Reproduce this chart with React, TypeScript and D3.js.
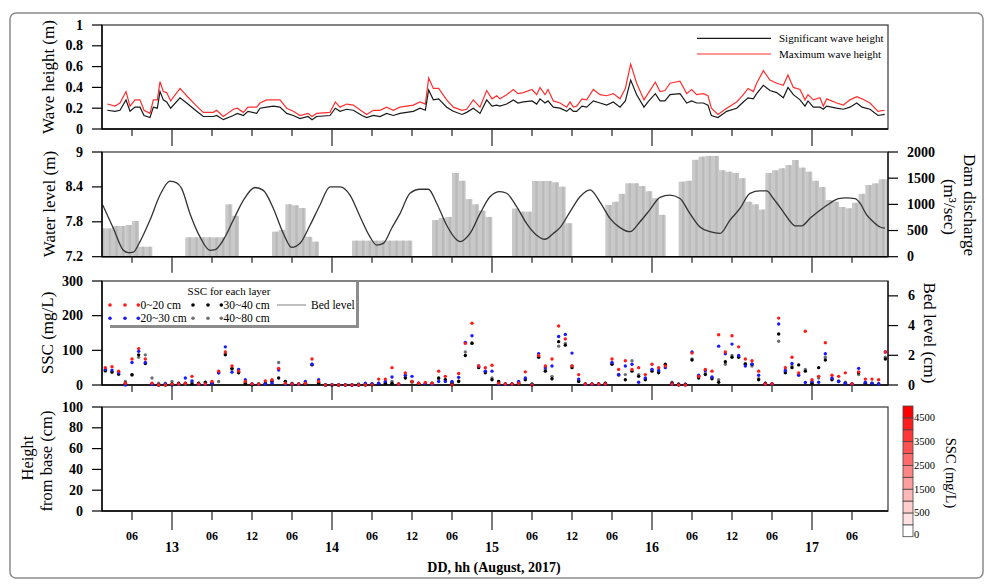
import React from "react";
import * as d3 from "d3";

// ---------- DATA ----------
// time axis: hours relative to 13 Aug 2017 00:00
const dayTicks = [0, 24, 48, 72, 96];
const dayLabels = ["13", "14", "15", "16", "17"];
const hourTicks = [-6, 6, 12, 18, 30, 36, 42, 54, 60, 66, 78, 84, 90, 102];
const hourLabels = ["06", "06", "12", "06", "06", "12", "06", "06", "12", "06", "06", "12", "06", "06"];

// wave heights
const waveHours = [
  -9.7, -8.55, -7.8, -6.9, -6.3, -5.55, -4.8, -4.2, -3.3, -2.8,
  -2.2, -1.8, -1.3, -0.8, -0.2, 1.2, 2.2, 3.7, 4.7, 6.2,
  6.7, 7.7, 9.2, 9.8, 10.7, 11.4, 12.7, 13.2, 14.2, 15.2,
  16.2, 17.2, 18.2, 19.2, 20.4, 21, 21.7, 23.7, 24.5, 25.2,
  26.2, 27.2, 28.5, 29.2, 30.2, 31.2, 32.2, 33.2, 34.2, 36.2,
  37.2, 38, 38.5, 39.2, 40, 41.2, 42.2, 43.5, 44.2, 45.2,
  46.2, 47.2, 48, 48.7,
  49.2, 50.2, 51.2, 51.9, 52.7, 54, 54.7, 55.2, 55.95, 56.4,
  57.2, 58.2, 59.2, 59.7, 60.2, 60.7, 61.5, 62.2, 63.2, 64.2,
  65.2, 66.2, 67.2, 68, 68.8, 69.7, 70.8, 71.4, 72.5, 73.2,
  73.95, 74.7, 76.2, 77.2, 77.95, 78.7, 79.7, 80.4, 80.9, 81.9,
  83.2, 84.7, 85.7, 86.4, 87.2, 87.7, 88.7, 89.7, 90.7, 91.7,
  92.4, 93.2, 94.2, 94.95, 95.4, 96.2, 97.2, 97.7, 98.2, 99.7,
  100.7, 101.7, 102.7, 103.5, 104.7, 105.9, 106.9,
];
const sigWave = [
  0.18, 0.17, 0.18, 0.28, 0.17, 0.21, 0.21, 0.13, 0.11, 0.21,
  0.2, 0.36, 0.28, 0.26, 0.2, 0.3, 0.25, 0.17, 0.12, 0.12,
  0.13, 0.09, 0.13, 0.15, 0.13, 0.17, 0.15, 0.2, 0.21, 0.22,
  0.21, 0.15, 0.13, 0.1, 0.12, 0.09, 0.12, 0.13, 0.2, 0.17,
  0.19, 0.18, 0.13, 0.11, 0.13, 0.12, 0.15, 0.13, 0.15, 0.17,
  0.2, 0.18, 0.375, 0.28, 0.29, 0.21, 0.17, 0.14, 0.16, 0.2,
  0.15, 0.28, 0.22, 0.23,
  0.22, 0.24, 0.28, 0.25, 0.26, 0.27, 0.24, 0.29, 0.25, 0.27,
  0.21, 0.2, 0.17, 0.2, 0.17, 0.17, 0.22, 0.21, 0.27, 0.25,
  0.23, 0.26, 0.21, 0.27, 0.47, 0.33, 0.21, 0.26, 0.34, 0.27,
  0.27, 0.33, 0.34, 0.25, 0.27, 0.25, 0.25, 0.23, 0.13, 0.11,
  0.17, 0.2, 0.26, 0.3, 0.29, 0.34, 0.42, 0.37, 0.35, 0.3,
  0.4, 0.33, 0.28, 0.22, 0.27, 0.21, 0.21, 0.19, 0.22, 0.2,
  0.19, 0.21, 0.25, 0.21, 0.19, 0.13, 0.14,
];
const maxWave = [
  0.24, 0.22, 0.25, 0.36, 0.22, 0.28, 0.28, 0.18, 0.15, 0.28,
  0.28, 0.455, 0.36, 0.35, 0.27, 0.39, 0.32, 0.22, 0.16, 0.16,
  0.18, 0.12, 0.19, 0.2, 0.16, 0.21, 0.21, 0.25, 0.28, 0.28,
  0.28, 0.2, 0.17, 0.13, 0.15, 0.12, 0.15, 0.16, 0.26, 0.21,
  0.24, 0.23, 0.17, 0.14, 0.18, 0.18, 0.21, 0.18, 0.21, 0.23,
  0.26, 0.24, 0.49, 0.39, 0.39, 0.28, 0.21, 0.18, 0.19, 0.28,
  0.21, 0.37, 0.29, 0.32,
  0.29, 0.33, 0.38, 0.34, 0.35, 0.38, 0.33, 0.4, 0.33, 0.38,
  0.27, 0.25, 0.21, 0.26, 0.21, 0.22, 0.29, 0.28, 0.38, 0.33,
  0.32, 0.34, 0.29, 0.39, 0.625, 0.44, 0.28, 0.34, 0.45, 0.36,
  0.37, 0.44, 0.46, 0.34, 0.38, 0.33, 0.34, 0.32, 0.2, 0.14,
  0.2, 0.26, 0.33, 0.39, 0.36, 0.44, 0.56, 0.47, 0.44, 0.42,
  0.52, 0.4, 0.38, 0.28, 0.33, 0.28, 0.3, 0.22, 0.29, 0.25,
  0.23, 0.28, 0.31, 0.29, 0.25, 0.17, 0.18,
];

// water level
const waterHours = [
  -10.4, -8.8, -7.3, -6.55, -5.8, -4.8, -3.3, -1.8, -0.3, 0.7,
  1.45, 2.7, 4.2, 5.7, 6.45, 7.7, 9.2, 10.7, 12.45, 13.7,
  15.2, 16.7, 17.95, 19.2, 20.7, 22.2, 23.7, 25.2, 26.7, 28.2,
  29.7, 30.7, 31.7, 32.95, 34.2, 35.7, 37.2, 38.45, 39.7, 41.2,
  42.7, 43.2, 44.7, 46.2, 47.7, 49.2, 50.2, 51.7, 53.2, 54.7,
  55.95, 57.2, 58.2, 59.7, 61.2, 62.7, 64.2, 65.7, 67.2, 68.7,
  70.2, 71.7, 73.2, 74.7, 76.2, 77.7, 79.2, 80.7, 82.2, 83.7,
  85.2, 86.7, 88.2, 89.2, 90.2, 91.7, 92.7, 93.45, 94.45, 95.7,
  97.2, 98.7, 99.95, 101.2, 102.45, 103.2, 104.2, 105.2, 106.2, 106.95,
];
const waterLevel = [
  8.09, 7.69, 7.31, 7.27, 7.28, 7.46, 7.83, 8.26, 8.5, 8.47,
  8.37, 7.94, 7.54, 7.31, 7.32, 7.49, 7.83, 8.17, 8.39, 8.34,
  8.03, 7.6, 7.36, 7.43, 7.74, 8.09, 8.4, 8.4, 8.26, 7.89,
  7.54, 7.4, 7.43, 7.69, 7.94, 8.29, 8.36, 8.36, 8.12, 7.74,
  7.49, 7.46, 7.6, 7.94, 8.23, 8.32, 8.29, 8.06, 7.77, 7.57,
  7.5, 7.6, 7.7, 7.97, 8.23, 8.35, 8.14, 7.86, 7.7, 7.63,
  7.8, 8.01, 8.22, 8.26, 8.2, 7.94, 7.71, 7.63, 7.6, 7.83,
  8.03, 8.29, 8.33, 8.33, 8.2, 7.97, 7.81, 7.73, 7.73, 7.86,
  8.0, 8.12, 8.2, 8.21, 8.2, 8.12, 7.92, 7.8, 7.71, 7.69,
];

// dam discharge, hourly from h = -11 to 107 (bar spans [h, h+1])
const dischargeStart = -11;
const discharge = [
  540, 540, 586, 586, 606, 680, 190, 190, 0, 0,
  0, 0, 0, 370, 370, 370, 370, 370, 370, 1000,
  780, 0, 0, 0, 0, 0, 478, 510, 1000, 980,
  930, 380, 287, 0, 0, 0, 0, 0, 306, 306,
  306, 306, 306, 306, 306, 306, 306, 0, 0, 0,
  700, 740, 760, 1600, 1450, 1100, 1000, 880, 760, 0,
  0, 0, 920, 860, 860, 1446, 1446, 1446, 1420, 1337,
  638, 0, 0, 0, 0, 0, 988, 1050, 1200, 1402,
  1402, 1350, 1250, 1115, 800, 0, 0, 1433, 1450, 1850,
  1910, 1925, 1925, 1650, 1624, 1600, 1500, 1050, 1000, 900,
  1600, 1650, 1688, 1750, 1847, 1700, 1624, 1450, 1330, 1083,
  1050, 950, 925, 1030, 1200, 1370, 1400, 1478, 1478,
];

// SSC (mg/L), hourly from h = -10 to 107
const sscStart = -10;
const ssc0to20 = [
  50, 53, 40, 5, 75, 105, 75, 5, 0, 0,
  2, 3, 5, 25, 3, 3, 10, 40, 95, 55,
  40, 10, 3, 3, 12, 15, 48, 5, 3, 3,
  5, 75, 10, 0, 0, 0, 0, 0, 0, 0,
  0, 17, 17, 50, 3, 35, 10, 5, 7, 5,
  40, 25, 0, 33, 120, 178, 55, 50, 57, 5,
  3, 3, 5, 38, 0, 85, 55, 75, 170, 133,
  55, 30, 3, 3, 3, 3, 75, 45, 70, 45,
  50, 30, 60, 50, 55, 3, 0, 0, 92, 25,
  45, 40, 145, 95, 142, 110, 75, 70, 40, 3,
  3, 193, 50, 80, 35, 155, 15, 25, 122, 28,
  25, 35, 3, 38, 17, 17, 15, 95,
];
const ssc20to30 = [
  45, 43, 35, 0, 65, 97, 65, 2, 0, 3,
  0, 2, 20, 12, 2, 2, 5, 35, 110, 37,
  45, 15, 3, 2, 3, 5, 43, 3, 2, 2,
  10, 60, 15, 0, 0, 0, 0, 0, 0, 5,
  3, 5, 10, 23, 2, 28, 25, 5, 5, 3,
  10, 10, 10, 22, 123, 142, 55, 40, 40, 3,
  2, 3, 10, 20, 0, 90, 50, 55, 140, 146,
  92, 17, 2, 2, 2, 3, 65, 30, 55, 60,
  8, 20, 45, 42, 50, 2, 0, 0, 95, 28,
  42, 23, 112, 90, 118, 85, 55, 60, 28, 3,
  2, 176, 42, 62, 28, 7, 10, 8, 90, 20,
  10, 5, 2, 48, 8, 5, 3, 95,
];
const ssc30to40 = [
  42, 38, 32, 5, 30, 87, 62, 3, 0, 0,
  3, 5, 5, 3, 5, 8, 5, 35, 87, 48,
  35, 5, 0, 2, 5, 10, 20, 10, 3, 2,
  5, 58, 5, 0, 0, 0, 0, 0, 0, 0,
  3, 3, 5, 5, 2, 20, 10, 3, 3, 5,
  20, 15, 5, 10, 85, 120, 50, 35, 15, 10,
  3, 2, 5, 15, 2, 80, 40, 18, 125, 115,
  50, 10, 3, 2, 3, 5, 60, 30, 15, 40,
  25, 15, 40, 35, 60, 5, 2, 2, 72, 20,
  30, 18, 8, 67, 80, 80, 60, 60, 15, 5,
  3, 147, 35, 50, 58, 40, 5, 50, 72, 15,
  10, 5, 3, 35, 5, 3, 3, 75,
];
const ssc40to80 = [
  40, 36, 30, 10, 28, 80, 87, 20, 5, 5,
  10, 3, 3, 8, 5, 3, 5, 10, 90, 45,
  38, 8, 3, 3, 5, 12, 65, 10, 5, 3,
  5, 60, 8, 0, 0, 0, 0, 0, 3, 2,
  3, 5, 8, 10, 3, 22, 8, 5, 3, 3,
  18, 15, 8, 12, 95, 122, 52, 40, 20, 8,
  2, 3, 8, 18, 3, 82, 45, 25, 112, 120,
  55, 12, 2, 3, 3, 5, 62, 28, 30, 70,
  30, 18, 45, 38, 55, 8, 3, 2, 75, 25,
  35, 22, 15, 60, 85, 82, 62, 55, 18, 5,
  3, 126, 40, 55, 30, 45, 8, 20, 80, 18,
  12, 8, 3, 30, 5, 5, 3, 80,
];

// axis ticks
const waveTicks = [0, 0.2, 0.4, 0.6, 0.8, 1];
const waterTicks = [7.2, 7.8, 8.4, 9];
const dischargeTicks = [0, 500, 1000, 1500, 2000];
const sscTicks = [0, 100, 200, 300];
const bedTicks = [0, 2, 4, 6];
const heightTicks = [0, 20, 40, 60, 80, 100];

// colorbar (bottom to top)
const cbColors = ["#ffffff", "#ffe1e1", "#ffcdcd", "#ffb7b7", "#ff9e9e", "#ff8585", "#ff6b6b", "#ff5151", "#ff3737", "#ff1d1d", "#ff0000"];
const cbLabels = ["0", "500", "1500", "2500", "3500", "4500"];
const cbLabelIdx = [0, 2, 4, 6, 8, 10];

// ---------- LAYOUT ----------
const W = 994, H = 588;
const X0 = 102, X1 = 888;
const FONT = "'Liberation Serif','Times New Roman',serif";
const P1 = { top: 25, bottom: 129 };
const P2 = { top: 152, bottom: 256.7 };
const P3 = { top: 281, bottom: 385 };
const P4 = { top: 407, bottom: 511 };

export default function App() {
  const x = d3.scaleLinear().domain([-10.5, 107.4]).range([X0, X1]);
  const y1 = d3.scaleLinear().domain([0, 1]).range([P1.bottom, P1.top]);
  const y2 = d3.scaleLinear().domain([7.2, 9]).range([P2.bottom, P2.top]);
  const y2r = d3.scaleLinear().domain([0, 2000]).range([P2.bottom, P2.top]);
  const y3 = d3.scaleLinear().domain([0, 300]).range([P3.bottom, P3.top]);
  const y3r = d3.scaleLinear().domain([0, 7]).range([P3.bottom, P3.top]);
  const y4 = d3.scaleLinear().domain([0, 100]).range([P4.bottom, P4.top]);

  const waveLine = (vals: number[]) =>
    d3.line<number>().x((_, i) => x(waveHours[i])).y((d) => y1(d))(vals) || "";
  const waterPath =
    d3.line<number>().x((_, i) => x(waterHours[i])).y((d) => y2(d)).curve(d3.curveMonotoneX)(waterLevel) || "";

  const leftAxis = (scale: d3.ScaleLinear<number, number>, ticks: number[], fmt = (v: number) => String(v)) => (
    <g>
      <line x1={X0} x2={X0} y1={scale.range()[0]} y2={scale.range()[1]} stroke="#000" strokeWidth={1.4} />
      {ticks.map((t) => (
        <g key={t}>
          <line x1={X0 - 10} x2={X0} y1={scale(t)} y2={scale(t)} stroke="#000" strokeWidth={1.2} />
          <text x={X0 - 19} y={scale(t)} textAnchor="end" dominantBaseline="central" fontSize={14} fontWeight="bold" fontFamily={FONT}>
            {fmt(t)}
          </text>
        </g>
      ))}
    </g>
  );
  const rightAxis = (scale: d3.ScaleLinear<number, number>, ticks: number[], lx: number) => (
    <g>
      <line x1={X1} x2={X1} y1={scale.range()[0]} y2={scale.range()[1]} stroke="#222" strokeWidth={1.4} />
      {ticks.map((t) => (
        <g key={t}>
          <line x1={X1} x2={X1 + 10} y1={scale(t)} y2={scale(t)} stroke="#000" strokeWidth={1.2} />
          <text x={lx} y={scale(t)} textAnchor="start" dominantBaseline="central" fontSize={14} fontWeight="bold" fontFamily={FONT}>
            {t}
          </text>
        </g>
      ))}
    </g>
  );
  const frame = (p: { top: number; bottom: number }) => (
    <g>
      <rect x={X0} y={p.top} width={X1 - X0} height={p.bottom - p.top} fill="none" stroke="#444" strokeWidth={1.3} />
      <line x1={X0} x2={X1} y1={p.bottom} y2={p.bottom} stroke="#000" strokeWidth={1.4} />
    </g>
  );
  const xTicks = (p: { top: number; bottom: number }, minorLen: number, majorLen: number) => (
    <g>
      {hourTicks.map((t) => (
        <line key={"m" + t} x1={x(t)} x2={x(t)} y1={p.bottom} y2={p.bottom + minorLen} stroke="#222" strokeWidth={1.2} />
      ))}
      {dayTicks.map((t) => (
        <line key={"M" + t} x1={x(t)} x2={x(t)} y1={p.bottom} y2={p.bottom + majorLen} stroke="#222" strokeWidth={1.2} />
      ))}
    </g>
  );

  const sscSeries = [
    { vals: ssc40to80, color: "#707070" },
    { vals: ssc30to40, color: "#000000" },
    { vals: ssc20to30, color: "#1a1aff" },
    { vals: ssc0to20, color: "#ff1a1a" },
  ];

  const cbTop = 406, cbBottom = 536.7, cbX = 903, cbW = 10;
  const cellH = (cbBottom - cbTop) / cbColors.length;

  const rotL = (cx: number, cy: number) => `rotate(-90 ${cx} ${cy})`;
  const rotR = (cx: number, cy: number) => `rotate(90 ${cx} ${cy})`;

  return (
    <svg width={W} height={H} style={{ position: "absolute", left: 0, top: 0, display: "block", background: "#fff" }} fontFamily={FONT}>
      <defs>
        <clipPath id="c2">
          <rect x={X0} y={P2.top} width={X1 - X0} height={P2.bottom - P2.top} />
        </clipPath>
        <clipPath id="c3">
          <rect x={X0 - 3} y={P3.top} width={X1 - X0 + 6} height={P3.bottom - P3.top + 3} />
        </clipPath>
      </defs>
      <rect x={10} y={13} width={973} height={565} rx={6} fill="none" stroke="#8a8a8a" strokeWidth={1.5} />

      {/* Panel 1 */}
      {frame(P1)}
      <path d={waveLine(maxWave)} fill="none" stroke="#ff2f2f" strokeWidth={1.2} />
      <path d={waveLine(sigWave)} fill="none" stroke="#1a1a1a" strokeWidth={1.2} />
      {leftAxis(y1, waveTicks)}
      {xTicks(P1, 7, 17)}
      <line x1={697} x2={771} y1={38.3} y2={38.3} stroke="#1a1a1a" strokeWidth={1.2} />
      <line x1={697} x2={771} y1={54} y2={54} stroke="#ff2f2f" strokeWidth={1.2} />
      <text x={779} y={38.3} dominantBaseline="central" fontSize={11}>Significant wave height</text>
      <text x={779} y={54} dominantBaseline="central" fontSize={11}>Maximum wave height</text>
      <text transform={rotL(48, 77)} x={48} y={77} textAnchor="middle" dominantBaseline="central" fontSize={17}>Wave height (m)</text>

      {/* Panel 2 */}
      <g clipPath="url(#c2)">
        {discharge.map((v, i) => {
          const h = dischargeStart + i;
          if (v <= 0) return null;
          const xa = x(h), w = x(h + 1) - x(h);
          return (
            <g key={i}>
              <rect x={xa} y={y2r(v)} width={w + 0.3} height={P2.bottom - y2r(v)} fill="#c9c9c9" />
              <rect x={xa + w * 0.5} y={y2r(v)} width={w * 0.35} height={P2.bottom - y2r(v)} fill="#bababa" />
            </g>
          );
        })}
        <path d={waterPath} fill="none" stroke="#333" strokeWidth={1.3} />
      </g>
      {frame(P2)}
      {leftAxis(y2, waterTicks)}
      {rightAxis(y2r, dischargeTicks, X1 + 19)}
      {xTicks(P2, 6, 16)}
      <text transform={rotL(49, 204)} x={49} y={204} textAnchor="middle" dominantBaseline="central" fontSize={17}>Water level (m)</text>
      <text transform={rotR(969, 205)} x={969} y={205} textAnchor="middle" dominantBaseline="central" fontSize={17}>Dam discharge</text>
      <text transform={rotR(949, 207)} x={949} y={207} textAnchor="middle" dominantBaseline="central" fontSize={17}>(m³/sec)</text>

      {/* Panel 3 */}
      {frame(P3)}
      <rect x={356} y={282} width={3} height={46} fill="#8c8c8c" />
      <rect x={110} y={325} width={249} height={3} fill="#8c8c8c" />
      <g clipPath="url(#c3)">
        {sscSeries.map((s, si) => (
          <g key={si}>
            {s.vals.map((v, i) => (
              <circle key={i} cx={x(sscStart + i)} cy={y3(v)} r={1.7} fill={s.color} />
            ))}
          </g>
        ))}
      </g>
      {leftAxis(y3, sscTicks)}
      {rightAxis(y3r, bedTicks, X1 + 20)}
      {xTicks(P3, 7, 15)}
      <text x={229} y={291} textAnchor="middle" dominantBaseline="central" fontSize={11}>SSC for each layer</text>
      {[110, 125, 138.3].map((cx) => (
        <g key={"l" + cx}>
          <circle cx={cx} cy={305} r={1.8} fill="#ff1a1a" />
          <circle cx={cx} cy={318.3} r={1.8} fill="#1a1aff" />
          <circle cx={cx + 83} cy={305} r={1.8} fill="#000" />
          <circle cx={cx + 83} cy={318.3} r={1.8} fill="#707070" />
        </g>
      ))}
      <text x={140.5} y={305} dominantBaseline="central" fontSize={11.5}>0~20 cm</text>
      <text x={140.5} y={318.3} dominantBaseline="central" fontSize={11.5}>20~30 cm</text>
      <text x={223.5} y={305} dominantBaseline="central" fontSize={11.5}>30~40 cm</text>
      <text x={223.5} y={318.3} dominantBaseline="central" fontSize={11.5}>40~80 cm</text>
      <line x1={277} x2={306} y1={305} y2={305} stroke="#aaa" strokeWidth={1.5} />
      <text x={311} y={305} dominantBaseline="central" fontSize={11.5}>Bed level</text>
      <text transform={rotL(47, 333)} x={47} y={333} textAnchor="middle" dominantBaseline="central" fontSize={17}>SSC (mg/L)</text>
      <text transform={rotR(929, 333)} x={929} y={333} textAnchor="middle" dominantBaseline="central" fontSize={17}>Bed level (cm)</text>

      {/* Panel 4 */}
      {frame(P4)}
      {leftAxis(y4, heightTicks)}
      {xTicks(P4, 9, 19)}
      {hourTicks.map((t, i) => (
        <text key={"hl" + t} x={x(t)} y={535.5} textAnchor="middle" dominantBaseline="central" fontSize={12} fontWeight="bold">
          {hourLabels[i]}
        </text>
      ))}
      {dayTicks.map((t, i) => (
        <text key={"dl" + t} x={x(t)} y={547} textAnchor="middle" dominantBaseline="central" fontSize={14} fontWeight="bold">
          {dayLabels[i]}
        </text>
      ))}
      <text x={494} y={567} textAnchor="middle" dominantBaseline="central" fontSize={14} fontWeight="bold">DD, hh (August, 2017)</text>
      <text transform={rotL(27, 458)} x={27} y={458} textAnchor="middle" dominantBaseline="central" fontSize={16.5}>Height</text>
      <text transform={rotL(46, 461)} x={46} y={461} textAnchor="middle" dominantBaseline="central" fontSize={16.5}>from base (cm)</text>

      {/* Colorbar */}
      {cbColors.map((c, i) => (
        <rect key={"cb" + i} x={cbX} y={cbBottom - (i + 1) * cellH} width={cbW} height={cellH} fill={c} stroke="#444" strokeWidth={0.8} />
      ))}
      {cbLabels.map((l, i) => (
        <text key={"cbl" + i} x={cbX + cbW + 1} y={cbLabelIdx[i] === 0 ? cbBottom - 2 : cbBottom - cbLabelIdx[i] * cellH} dominantBaseline="central" fontSize={10.5}>
          {l}
        </text>
      ))}
      <text transform={rotR(951, 473)} x={951} y={473} textAnchor="middle" dominantBaseline="central" fontSize={14.5}>SSC (mg/L)</text>
    </svg>
  );
}
